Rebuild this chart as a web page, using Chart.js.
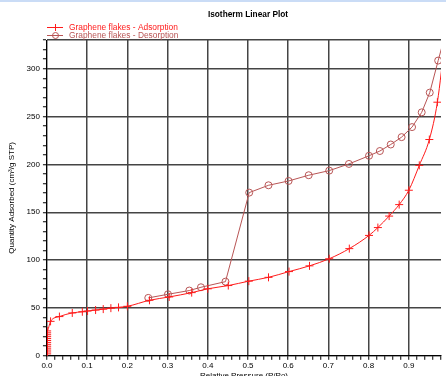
<!DOCTYPE html>
<html>
<head>
<meta charset="utf-8">
<script src="https://cdn.jsdelivr.net/npm/chart.js@4"></script>
<style>
  html, body { margin: 0; padding: 0; background: #fff; overflow: hidden; }
  body { width: 446px; height: 376px; position: relative; }
  #band { position: absolute; left: 0; top: 0; width: 446px; height: 2px; background: #cadcf6; }
  #wrap { position: absolute; left: 0; top: 0; width: 446px; height: 381px; }
</style>
</head>
<body>
<div id="wrap"><canvas id="isoChart"></canvas></div>
<div id="band"></div>
<script>
// adsorption branch (P/Po, cm3/g STP)
const adsX = [0.0005, 0.0005, 0.0005, 0.0005, 0.0005, 0.0005, 0.0005, 0.0005, 0.0005, 0.0005, 0.0005, 0.0005, 0.0005,
    0.009, 0.031, 0.063, 0.088, 0.101, 0.121, 0.14, 0.159, 0.178, 0.2, 0.255, 0.304, 0.36, 0.4, 0.451,
    0.502, 0.551, 0.602, 0.653, 0.702, 0.752, 0.801, 0.823, 0.851, 0.876, 0.9, 0.926, 0.951, 0.971, 0.99];
const adsY = [2, 4, 6, 8, 10, 12, 14, 16, 18, 20, 22, 24, 26,
    36, 41, 44.8, 46, 46.8, 47.8, 48.8, 49.8, 50.6, 51.7, 58, 61.5, 66, 70, 73.4,
    78, 82, 88, 94, 101.4, 112, 125.8, 134, 146, 158, 173, 199, 226, 265, 330];

// desorption branch
const desX = [0.99, 0.973, 0.952, 0.932, 0.908, 0.882, 0.855, 0.828, 0.801, 0.751, 0.702, 0.651, 0.601, 0.551, 0.503,
    0.444, 0.383, 0.354, 0.301, 0.252];
const desY = [335, 308.5, 275, 254.4, 239, 228.5, 220.8, 214, 209, 200.5, 193.5, 188.7, 182.7, 178.2, 170.5,
    77.5, 71.6, 68.2, 64.3, 60.5];

const xTicks = [0, 0.1, 0.2, 0.3, 0.4, 0.5, 0.6, 0.7, 0.8, 0.9];
const yTicks = [0, 50, 100, 150, 200, 250, 300];

const adsColor = '#ff1a1a';
const desColor = '#b85555';
const fontFamily = '"Liberation Sans", Arial, sans-serif';

function toPts(xs, ys) {
    return xs.map((x, i) => ({ x: x, y: ys[i] }));
}

function isMajorX(v) {
    return xTicks.some(t => Math.abs(t - v) < 1e-6);
}
function isMajorY(v) {
    return yTicks.indexOf(Math.round(v)) >= 0 && Math.abs(v - Math.round(v)) < 1e-6;
}

// title + legend drawn above the plot
const headerPlugin = {
    id: 'header',
    afterDraw(chart) {
        const c = chart.ctx;
        const area = chart.chartArea;
        const fullRight = chart.scales.x.getPixelForValue(1.0);
        c.save();
        c.fillStyle = '#000';
        c.font = 'bold 8.3px ' + fontFamily;
        c.textAlign = 'center';
        c.textBaseline = 'middle';
        c.fillText('Isotherm Linear Plot', (area.left + fullRight) / 2, 15);

        const rows = [
            { text: 'Graphene flakes - Adsorption', color: adsColor, y: 27, mark: 'cross' },
            { text: 'Graphene flakes - Desorption', color: desColor, y: 35, mark: 'circle' }
        ];
        c.font = '8.4px ' + fontFamily;
        c.textAlign = 'left';
        rows.forEach(r => {
            c.strokeStyle = r.color;
            c.lineWidth = 1;
            c.beginPath();
            c.moveTo(47, r.y + 0.5);
            c.lineTo(63, r.y + 0.5);
            c.stroke();
            c.beginPath();
            if (r.mark === 'cross') {
                c.moveTo(55.5, r.y - 3);
                c.lineTo(55.5, r.y + 4);
            } else {
                c.arc(55.5, r.y + 0.5, 3, 0, Math.PI * 2);
            }
            c.stroke();
            c.fillStyle = r.color;
            c.fillText(r.text, 69, r.y + 0.5);
        });
        c.restore();
    }
};

const ctxIso = document.getElementById('isoChart');
const isoChart = new Chart(ctxIso, {
    type: 'scatter',
    data: {
        datasets: [{
            label: 'Graphene flakes - Adsorption',
            data: toPts(adsX, adsY),
            showLine: true,
            borderColor: adsColor,
            backgroundColor: adsColor,
            borderWidth: 1,
            pointStyle: 'cross',
            pointRadius: 4,
            pointBorderWidth: 1,
            cubicInterpolationMode: 'monotone'
        }, {
            label: 'Graphene flakes - Desorption',
            data: toPts(desX, desY),
            showLine: true,
            borderColor: desColor,
            backgroundColor: 'rgba(0,0,0,0)',
            borderWidth: 1,
            pointStyle: 'circle',
            pointRadius: 3.5,
            pointBorderWidth: 1,
            tension: 0
        }]
    },
    options: {
        responsive: true,
        maintainAspectRatio: false,
        animation: false,
        events: [],
        layout: {
            padding: { top: 40, left: 7, right: 0, bottom: 0 }
        },
        plugins: {
            legend: { display: false },
            title: { display: false },
            tooltip: { enabled: false }
        },
        scales: {
            x: {
                type: 'linear',
                min: 0,
                max: 0.98,
                border: { display: true, color: '#000', width: 1 },
                grid: {
                    color: ctx => isMajorX(ctx.tick.value) ? '#444' : 'rgba(0,0,0,0)',
                    lineWidth: 1.5,
                    tickColor: '#000',
                    tickLength: 4,
                    tickWidth: 1
                },
                ticks: {
                    stepSize: 0.02,
                    autoSkip: false,
                    maxRotation: 0,
                    padding: 1,
                    color: '#000',
                    font: { size: 8, family: fontFamily },
                    callback: v => isMajorX(v) ? v.toFixed(1) : ''
                },
                title: {
                    display: true,
                    text: 'Relative Pressure (P/Po)',
                    color: '#000',
                    padding: { top: 0, bottom: 0 },
                    font: { size: 8, family: fontFamily }
                }
            },
            y: {
                type: 'linear',
                min: 0,
                max: 330,
                border: { display: true, color: '#000', width: 1 },
                grid: {
                    color: ctx => (isMajorY(ctx.tick.value) || ctx.tick.value === 330) ? '#444' : 'rgba(0,0,0,0)',
                    lineWidth: 1.5,
                    tickColor: '#000',
                    tickLength: 4,
                    tickWidth: 1
                },
                ticks: {
                    stepSize: 10,
                    autoSkip: false,
                    padding: 3,
                    color: '#000',
                    font: { size: 8, family: fontFamily },
                    callback: v => isMajorY(v) ? String(v) : ''
                },
                title: {
                    display: true,
                    text: 'Quantity Adsorbed (cm³/g STP)',
                    color: '#000',
                    padding: { top: 0, bottom: 7 },
                    font: { size: 8, family: fontFamily }
                }
            }
        }
    },
    plugins: [headerPlugin]
});
</script>
</body>
</html>
